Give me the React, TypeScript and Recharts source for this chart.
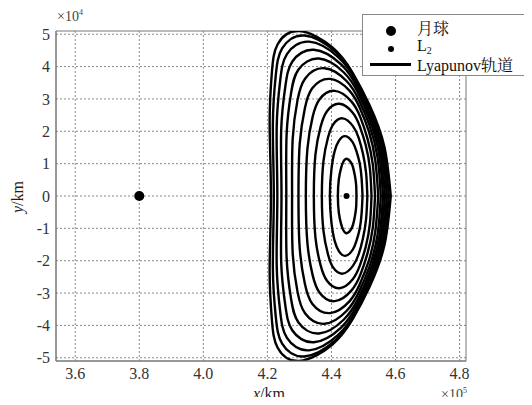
import { ComposedChart, Line, XAxis, YAxis, CartesianGrid, ReferenceArea } from "recharts";

// x in units of 1e5 km, y in units of 1e4 km
type Pt = [number, number];

const orbit1: Pt[] = [[4.478,0],[4.477,0.345],[4.473,0.633],[4.468,0.863],[4.461,1.035],[4.448,1.15],[4.437,1.058],[4.430,0.863],[4.423,0.518],[4.420,0],[4.423,-0.518],[4.430,-0.863],[4.437,-1.058],[4.448,-1.15],[4.461,-1.035],[4.468,-0.863],[4.473,-0.633],[4.477,-0.345],[4.478,0]];
const orbit2: Pt[] = [[4.497,0],[4.494,0.555],[4.488,1.018],[4.478,1.388],[4.466,1.665],[4.443,1.85],[4.423,1.702],[4.410,1.388],[4.400,0.833],[4.395,0],[4.400,-0.833],[4.410,-1.388],[4.423,-1.702],[4.443,-1.85],[4.466,-1.665],[4.478,-1.388],[4.488,-1.018],[4.494,-0.555],[4.497,0]];
const orbit3: Pt[] = [[4.512,0],[4.508,0.72],[4.498,1.32],[4.485,1.80],[4.467,2.16],[4.435,2.40],[4.405,2.208],[4.389,1.80],[4.375,1.08],[4.370,0],[4.375,-1.08],[4.389,-1.80],[4.405,-2.208],[4.435,-2.40],[4.467,-2.16],[4.485,-1.80],[4.498,-1.32],[4.508,-0.72],[4.512,0]];
const orbit4: Pt[] = [[4.525,0],[4.520,0.855],[4.507,1.568],[4.489,2.138],[4.467,2.565],[4.425,2.85],[4.386,2.622],[4.366,2.138],[4.350,1.283],[4.345,0],[4.350,-1.283],[4.366,-2.138],[4.386,-2.622],[4.425,-2.85],[4.467,-2.565],[4.489,-2.138],[4.507,-1.568],[4.520,-0.855],[4.525,0]];
const orbit5: Pt[] = [[4.536,0],[4.529,0.975],[4.512,1.788],[4.490,2.438],[4.462,2.925],[4.410,3.25],[4.363,2.99],[4.341,2.438],[4.325,1.463],[4.320,0],[4.325,-1.463],[4.341,-2.438],[4.363,-2.99],[4.410,-3.25],[4.462,-2.925],[4.490,-2.438],[4.512,-1.788],[4.529,-0.975],[4.536,0]];
const orbit6: Pt[] = [[4.546,0],[4.537,1.086],[4.517,1.991],[4.489,2.715],[4.456,3.258],[4.395,3.62],[4.340,3.33],[4.317,2.715],[4.301,1.629],[4.297,0],[4.301,-1.629],[4.317,-2.715],[4.340,-3.33],[4.395,-3.62],[4.456,-3.258],[4.489,-2.715],[4.517,-1.991],[4.537,-1.086],[4.546,0]];
const orbit7: Pt[] = [[4.554,0],[4.544,1.185],[4.519,2.173],[4.486,2.963],[4.447,3.555],[4.378,3.95],[4.318,3.634],[4.294,2.963],[4.279,1.778],[4.277,0],[4.279,-1.778],[4.294,-2.963],[4.318,-3.634],[4.378,-3.95],[4.447,-3.555],[4.486,-2.963],[4.519,-2.173],[4.544,-1.185],[4.554,0]];
const orbit8: Pt[] = [[4.561,0],[4.549,1.275],[4.520,2.338],[4.483,3.188],[4.438,3.825],[4.361,4.25],[4.297,3.91],[4.274,3.188],[4.260,1.913],[4.259,0],[4.260,-1.913],[4.274,-3.188],[4.297,-3.91],[4.361,-4.25],[4.438,-3.825],[4.483,-3.188],[4.520,-2.338],[4.549,-1.275],[4.561,0]];
const orbit9: Pt[] = [[4.567,0],[4.553,1.356],[4.520,2.486],[4.479,3.39],[4.430,4.068],[4.345,4.52],[4.278,4.158],[4.256,3.39],[4.243,2.034],[4.244,0],[4.243,-2.034],[4.256,-3.39],[4.278,-4.158],[4.345,-4.52],[4.430,-4.068],[4.479,-3.39],[4.520,-2.486],[4.553,-1.356],[4.567,0]];
const orbit10: Pt[] = [[4.573,0],[4.557,1.431],[4.520,2.624],[4.475,3.578],[4.421,4.293],[4.330,4.77],[4.261,4.388],[4.240,3.578],[4.229,2.147],[4.231,0],[4.229,-2.147],[4.240,-3.578],[4.261,-4.388],[4.330,-4.77],[4.421,-4.293],[4.475,-3.578],[4.520,-2.624],[4.557,-1.431],[4.573,0]];
const orbit11: Pt[] = [[4.579,0],[4.561,1.488],[4.520,2.728],[4.470,3.72],[4.412,4.464],[4.315,4.96],[4.246,4.563],[4.226,3.72],[4.217,2.232],[4.220,0],[4.217,-2.232],[4.226,-3.72],[4.246,-4.563],[4.315,-4.96],[4.412,-4.464],[4.470,-3.72],[4.520,-2.728],[4.561,-1.488],[4.579,0]];
const orbit12: Pt[] = [[4.585,0],[4.565,1.53],[4.519,2.805],[4.465,3.825],[4.403,4.59],[4.300,5.10],[4.232,4.692],[4.214,3.825],[4.207,2.295],[4.211,0],[4.207,-2.295],[4.214,-3.825],[4.232,-4.692],[4.300,-5.10],[4.403,-4.59],[4.465,-3.825],[4.519,-2.805],[4.565,-1.53],[4.585,0]];

const orbits = [orbit1, orbit2, orbit3, orbit4, orbit5, orbit6, orbit7, orbit8, orbit9, orbit10, orbit11, orbit12];

const moon: Pt[] = [[3.8, 0]];
const l2: Pt[] = [[4.447, 0]];

const xTicks = [3.6, 3.8, 4.0, 4.2, 4.4, 4.6, 4.8];
const yTicks = [-5, -4, -3, -2, -1, 0, 1, 2, 3, 4, 5];

const toRows = (pts: Pt[]) => pts.map(([x, y]) => ({ x, y }));

const FONT = "'Liberation Serif', 'Times New Roman', 'Noto Serif CJK SC', 'Noto Sans CJK SC', serif";

export default function App() {
  return (
    <div style={{ position: "relative", width: 532, height: 405, margin: -8, background: "#fff", fontFamily: FONT, overflow: "hidden" }}>
      <ComposedChart width={532} height={405} margin={{ top: 31, right: 66, bottom: 0, left: 0 }}>
        <CartesianGrid stroke="#8a8a8a" strokeDasharray="2 2" horizontalValues={yTicks} verticalValues={xTicks} />
        <XAxis
          type="number"
          dataKey="x"
          domain={[3.54, 4.82]}
          ticks={xTicks}
          tickFormatter={(v: number) => v.toFixed(1)}
          allowDataOverflow
          height={44}
          tickLine={false}
          tickSize={5}
          axisLine={{ stroke: "#777" }}
          tick={{ fontSize: 16, fill: "#333", fontFamily: FONT }}
        />
        <YAxis
          type="number"
          dataKey="y"
          domain={[-5.1, 5.1]}
          ticks={yTicks}
          allowDataOverflow
          width={56}
          tickLine={false}
          tickSize={4}
          axisLine={{ stroke: "#777" }}
          tick={{ fontSize: 16, fill: "#333", fontFamily: FONT }}
        />
        <ReferenceArea x1={3.54} x2={4.82} y1={-5.1} y2={5.1} fill="none" stroke="#777" strokeWidth={1} />
        {orbits.map((o, i) => (
          <Line
            key={i}
            data={toRows(o)}
            dataKey="y"
            type="natural"
            stroke="#000"
            strokeWidth={2.4}
            dot={false}
            isAnimationActive={false}
          />
        ))}
        <Line data={toRows(moon)} dataKey="y" stroke="none" dot={{ r: 5, fill: "#000", stroke: "none" }} isAnimationActive={false} />
        <Line data={toRows(l2)} dataKey="y" stroke="none" dot={{ r: 3, fill: "#000", stroke: "none" }} isAnimationActive={false} />
      </ComposedChart>

      <div style={{ position: "absolute", left: 57, top: 8, fontSize: 14, color: "#444" }}>
        ×10<sup style={{ fontSize: 8 }}>4</sup>
      </div>
      <div style={{ position: "absolute", left: 441, top: 386, fontSize: 14, color: "#444" }}>
        ×10<sup style={{ fontSize: 8 }}>5</sup>
      </div>
      <div style={{ position: "absolute", left: 253, top: 385, fontSize: 16, color: "#222" }}>
        <i>x</i>/km
      </div>
      <div
        style={{
          position: "absolute",
          left: 18,
          top: 197,
          fontSize: 16,
          color: "#222",
          transform: "translate(-50%, -50%) rotate(-90deg)",
          whiteSpace: "nowrap",
        }}
      >
        <i>y</i>/km
      </div>

      <div
        style={{
          position: "absolute",
          left: 362,
          top: 14,
          width: 180,
          height: 60,
          border: "1px solid #888",
          background: "#fff",
          fontSize: 16,
          color: "#111",
          lineHeight: "16px",
        }}
      >
        <div style={{ position: "absolute", left: 23, top: 11, width: 10, height: 10, borderRadius: 5, background: "#000" }} />
        <div style={{ position: "absolute", left: 54, top: 6 }}>月球</div>
        <div style={{ position: "absolute", left: 25, top: 31, width: 6, height: 6, borderRadius: 3, background: "#000" }} />
        <div style={{ position: "absolute", left: 54, top: 23 }}>
          L<span style={{ fontSize: 10, position: "relative", top: 3 }}>2</span>
        </div>
        <div style={{ position: "absolute", left: 7, top: 48, width: 41, height: 3, background: "#000" }} />
        <div style={{ position: "absolute", left: 54, top: 43, whiteSpace: "nowrap" }}>Lyapunov轨道</div>
      </div>
    </div>
  );
}
